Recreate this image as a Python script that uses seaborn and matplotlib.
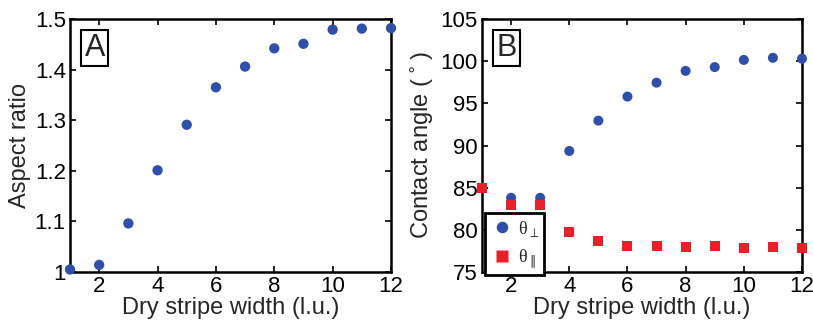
import numpy as np
import pandas as pd
import matplotlib
matplotlib.use("Agg")
import matplotlib.pyplot as plt
import seaborn as sns

width = [1, 2, 3, 4, 5, 6, 7, 8, 9, 10, 11, 12]
aspect_ratio = [1.005, 1.014, 1.096, 1.201, 1.291, 1.365, 1.406, 1.442, 1.451, 1.479, 1.481, 1.482]
theta_perp = [85.0, 83.8, 83.8, 89.35, 92.95, 95.8, 97.45, 98.85, 99.3, 100.15, 100.4, 100.3]
theta_par = [85.0, 83.0, 83.0, 79.7, 78.7, 78.1, 78.1, 78.0, 78.1, 77.85, 78.0, 77.85]
lab_perp = "θ$_{\\perp}$"
lab_par = "θ$_{\\parallel}$"

sns.set_theme(style="ticks")
plt.rcParams['font.family'] = ['Liberation Sans', 'DejaVu Sans']
plt.rcParams['mathtext.fontset'] = 'dejavusans'

blue = "#2F4FA8"
red = "#E8202A"

fig = plt.figure(figsize=(8.13, 3.25), dpi=100)
axA = fig.add_axes([70/813, 1 - 272/325, 321/813, 253/325])
axB = fig.add_axes([482/813, 1 - 272/325, 320/813, 253/325])

dfA = pd.DataFrame({"w": width, "ar": aspect_ratio})
sns.scatterplot(data=dfA, x="w", y="ar", ax=axA, color=blue, s=55, edgecolor="none", marker="o", clip_on=False, zorder=3)

dfB = pd.DataFrame({"w": width * 2, "angle": theta_perp + theta_par,
                    "kind": [lab_perp] * len(width) + [lab_par] * len(width)})
sns.scatterplot(data=dfB, x="w", y="angle", hue="kind", style="kind",
                markers={lab_perp: "o", lab_par: "s"},
                palette={lab_perp: blue, lab_par: red},
                ax=axB, s=52, edgecolor="none", clip_on=False, zorder=3)

for ax in (axA, axB):
    ax.set_xlim(1, 12)
    ax.set_xticks([2, 4, 6, 8, 10, 12])
    ax.tick_params(direction="in", top=True, right=True, length=4, width=1.2,
                   labelsize=16, colors="black", pad=3)
    for sp in ax.spines.values():
        sp.set_linewidth(1.8)
        sp.set_color("black")
        sp.set_visible(True)
    ax.set_xlabel("Dry stripe width (l.u.)", fontsize=17, labelpad=0)
    ax.grid(False)

axA.set_ylim(1.0, 1.5)
axA.set_yticks([1.0, 1.1, 1.2, 1.3, 1.4, 1.5])
axA.set_yticklabels(["1", "1.1", "1.2", "1.3", "1.4", "1.5"])
axA.set_ylabel("Aspect ratio", fontsize=17, labelpad=3)

axB.set_ylim(75, 105)
axB.set_yticks([75, 80, 85, 90, 95, 100, 105])
axB.set_ylabel(r"Contact angle ($\,^{\circ}\,$)", fontsize=17, labelpad=3)

for ax, lab in ((axA, "A"), (axB, "B")):
    ax.text(0.045, 0.945, lab, transform=ax.transAxes, fontsize=22, va="top", ha="left",
            bbox=dict(boxstyle="square,pad=0.1", facecolor="white", edgecolor="black", linewidth=1.5))

leg = axB.legend(loc="lower left", bbox_to_anchor=(0.01, -0.012), frameon=True,
                 prop={"family": ["Liberation Serif", "DejaVu Serif"], "size": 13},
                 handletextpad=0.2, borderpad=0.3, labelspacing=0.45, fancybox=False,
                 handlelength=1.3, borderaxespad=0.0, markerscale=1.15)
leg.get_frame().set_edgecolor("black")
leg.get_frame().set_linewidth(2.0)
leg.get_frame().set_alpha(1)

fig.savefig("out.png", dpi=100)
